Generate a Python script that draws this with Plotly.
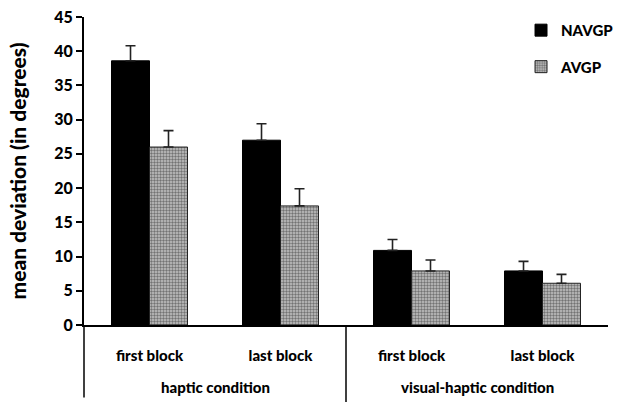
import plotly.graph_objects as go

# Mean deviation per block, split by group
blocks = ["first block", "last block", "first block ", "last block "]
block_labels = ["first block", "last block", "first block", "last block"]
conditions = ["haptic condition", "visual-haptic condition"]
navgp_mean = [38.6, 27.0, 10.9, 7.9]
navgp_err = [2.2, 2.4, 1.6, 1.4]
avgp_mean = [26.0, 17.4, 7.9, 6.1]
avgp_err = [2.4, 2.5, 1.6, 1.3]
y_ticks = [0, 5, 10, 15, 20, 25, 30, 35, 40, 45]

FONT = "Lato"
W = 900

fig = go.Figure()

fig.add_trace(go.Bar(
    name="NAVGP", x=blocks, y=navgp_mean,
    marker=dict(color="black", line=dict(color="black", width=1)),
    error_y=dict(type="data", symmetric=False, array=navgp_err,
                 arrayminus=[0] * len(navgp_err),
                 color="#222", thickness=1.6, width=5),
    legendgroup="a",
))
fig.add_trace(go.Bar(
    name="AVGP", x=blocks, y=avgp_mean,
    marker=dict(color="#9a9a9a",
                line=dict(color="#222", width=1),
                pattern=dict(shape=".", fgcolor="#222", bgcolor="#c4c4c4",
                             size=3, solidity=0.5)),
    error_y=dict(type="data", symmetric=False, array=avgp_err,
                 arrayminus=[0] * len(avgp_err),
                 color="#222", thickness=1.6, width=5),
    legendgroup="b",
))

# Condition labels below the block labels
for i, cond in enumerate(conditions):
    fig.add_annotation(
        x=2 * i + 0.5, xref="x", y=-0.2, yref="paper",
        text=cond, showarrow=False, yanchor="middle",
        font=dict(family=FONT, size=15, color="black", weight=W),
    )

# Divider between the two conditions and the extended left axis
fig.add_shape(type="line", xref="x", yref="paper",
              x0=1.5, x1=1.5, y0=0, y1=-0.25,
              line=dict(color="black", width=1.5))
fig.add_shape(type="line", xref="paper", yref="paper",
              x0=0, x1=0, y0=0, y1=-0.235,
              line=dict(color="black", width=1.5))

fig.update_layout(
    width=622, height=402,
    margin=dict(l=84, r=14, t=17, b=77, autoexpand=False),
    plot_bgcolor="white", paper_bgcolor="white",
    barmode="group", bargap=0.42, bargroupgap=0,
    font=dict(family=FONT, size=15, color="black", weight=W),
    legend=dict(x=0.834, y=1.01, xanchor="left", yanchor="top",
                bgcolor="rgba(0,0,0,0)", tracegroupgap=14,
                itemwidth=30, traceorder="grouped",
                font=dict(family=FONT, size=15, color="black", weight=W)),
    xaxis=dict(
        tickmode="array", tickvals=blocks, ticktext=block_labels,
        showline=True, linecolor="black", linewidth=2,
        ticks="", ticklabelstandoff=16, range=[-0.5, 3.5],
        showgrid=False, zeroline=False,
        tickfont=dict(family=FONT, size=15, color="black", weight=W),
    ),
    yaxis=dict(
        range=[0, 45], tickvals=y_ticks,
        showline=True, linecolor="black", linewidth=2,
        ticks="outside", ticklen=6, tickwidth=1.5, tickcolor="black",
        showgrid=False, zeroline=False,
        title=dict(text="mean deviation (in degrees)", standoff=22,
                   font=dict(family=FONT, size=21, color="black", weight=W)),
        tickfont=dict(family=FONT, size=16, color="black", weight=W),
    ),
)

fig.write_html("out.html")
